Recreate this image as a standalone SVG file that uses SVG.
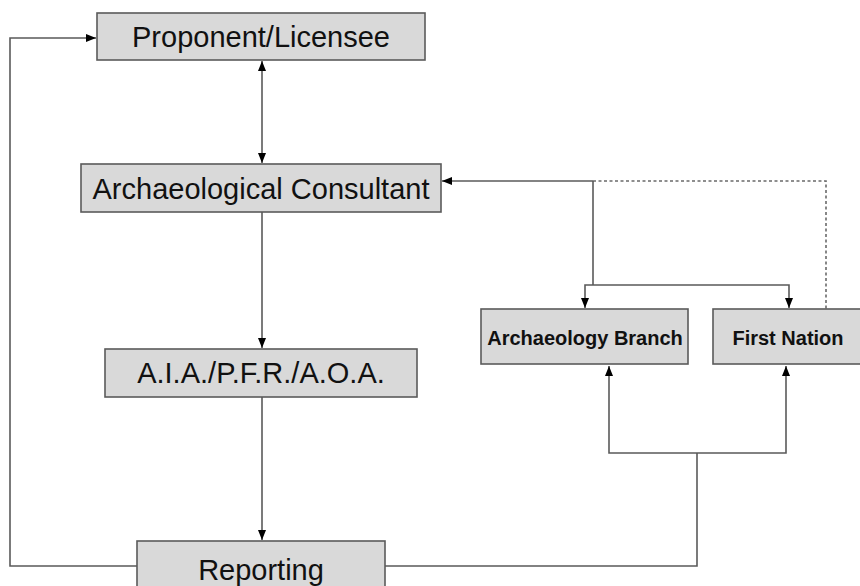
<svg xmlns="http://www.w3.org/2000/svg" width="860" height="586" viewBox="0 0 860 586">
<style>
.box{fill:#d9d9d9;stroke:#5a5a5a;stroke-width:1.6}
.t{font-family:"Liberation Sans",Arial,sans-serif;font-size:29px;fill:#111;text-anchor:middle}
.tb{font-family:"Liberation Sans",Arial,sans-serif;font-size:20px;font-weight:bold;fill:#111;text-anchor:middle}
.c{fill:none;stroke:#5a5a5a;stroke-width:1.6}
.d{fill:none;stroke:#6a6a6a;stroke-width:1.6;stroke-dasharray:3,2.5}
</style>
<defs>
<marker id="ah" viewBox="0 0 10 10" refX="10" refY="5" markerWidth="10" markerHeight="10" markerUnits="userSpaceOnUse" orient="auto-start-reverse">
<path d="M0,1 L10,5 L0,9 Z" fill="#000"/>
</marker>
</defs>
<rect width="860" height="586" fill="#fff"/>
<g id="connectors">
<path class="c" d="M262,61 V163" marker-start="url(#ah)" marker-end="url(#ah)"/>
<path class="c" d="M593,181 H442" marker-end="url(#ah)"/>
<path class="d" d="M593,181 H826 V309"/>
<path class="c" d="M593,181 V285"/>
<path class="c" d="M585,308 V285 H789 V308" marker-start="url(#ah)" marker-end="url(#ah)"/>
<path class="c" d="M262,212 V348" marker-end="url(#ah)"/>
<path class="c" d="M262,397 V540" marker-end="url(#ah)"/>
<path class="c" d="M137,566 H10 V38 H96" marker-end="url(#ah)"/>
<path class="c" d="M385,566 H697 V453"/>
<path class="c" d="M609,366 V453 H786 V366" marker-start="url(#ah)" marker-end="url(#ah)"/>
</g>
<g id="proponent">
<rect class="box" x="97" y="13" width="328" height="47"/>
<text class="t" x="261" y="47">Proponent/Licensee</text>
</g>
<g id="consultant">
<rect class="box" x="81" y="164" width="360" height="48"/>
<text class="t" x="261" y="199">Archaeological Consultant</text>
</g>
<g id="aia">
<rect class="box" x="105" y="349" width="312" height="48"/>
<text class="t" x="261" y="383">A.I.A./P.F.R./A.O.A.</text>
</g>
<g id="reporting">
<rect class="box" x="137" y="541" width="248" height="60"/>
<text class="t" x="261" y="580">Reporting</text>
</g>
<g id="branch">
<rect class="box" x="481" y="309" width="207" height="55"/>
<text class="tb" x="585" y="345">Archaeology Branch</text>
</g>
<g id="firstnation">
<rect class="box" x="713" y="309" width="160" height="55"/>
<text class="tb" x="788" y="345">First Nation</text>
</g>
</svg>
